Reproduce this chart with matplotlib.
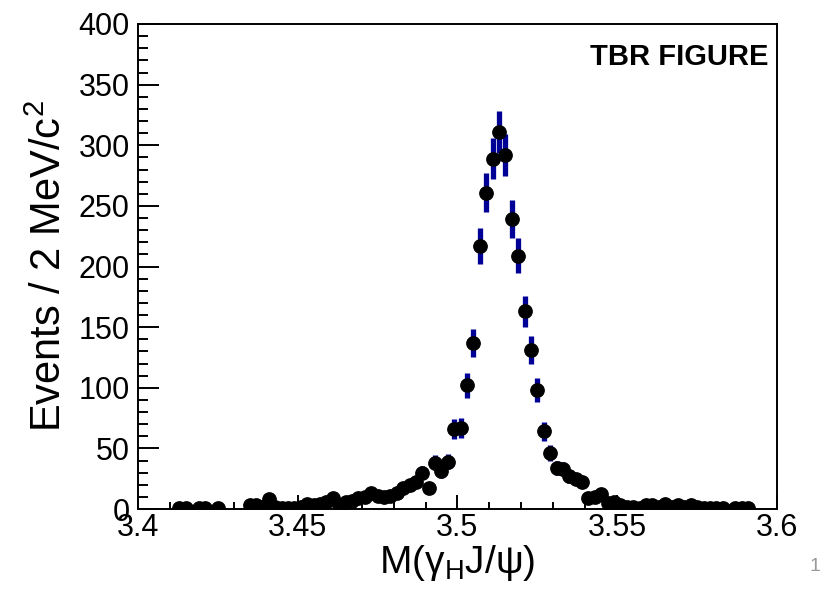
import numpy as np
import matplotlib
matplotlib.use("Agg")
import matplotlib.pyplot as plt
from matplotlib.ticker import MultipleLocator

plt.rcParams["font.family"] = ["Liberation Sans", "DejaVu Sans"]
plt.rcParams["mathtext.fontset"] = "custom"
plt.rcParams["mathtext.rm"] = "Liberation Sans"
plt.rcParams["mathtext.it"] = "Liberation Sans:italic"

# 2 MeV bins from 3.40 to 3.60 GeV, counts
bin_lo = 3.40
bin_width = 0.002
counts = [
    0, 0, 0, 0, 0, 0, 1, 1, 0, 1,
    1, 0, 1, 0, 0, 0, 0, 3, 3, 2,
    8, 2, 1, 1, 1, 2, 4, 3, 4, 6,
    9, 3, 6, 7, 9, 10, 13, 11, 10, 11,
    13, 17, 20, 22, 30, 17, 38, 31, 39, 66,
    67, 102, 137, 217, 261, 289, 311, 292, 239, 209,
    163, 131, 98, 64, 46, 34, 33, 27, 25, 22,
    9, 10, 12, 5, 6, 3, 2, 2, 1, 3,
    3, 2, 4, 2, 3, 2, 3, 2, 1, 1,
    1, 1, 0, 1, 1, 1, 0, 0, 0, 0,
]

x_ticks = [3.4, 3.45, 3.5, 3.55, 3.6]
x_tick_labels = ["3.4", "3.45", "3.5", "3.55", "3.6"]
y_ticks = [0, 50, 100, 150, 200, 250, 300, 350, 400]

n = np.array(counts, dtype=float)
centers = bin_lo + bin_width * (np.arange(len(n)) + 0.5)
keep = n > 0  # empty bins are not drawn

fig = plt.figure(figsize=(8.21, 6.06), dpi=100)
ax = fig.add_axes([0.168, 0.160, 0.7784, 0.8004])

ax.errorbar(centers[keep], n[keep], yerr=np.sqrt(n[keep]), fmt="o",
            color="black", markersize=9.6, ecolor="#000096",
            elinewidth=3.8, capsize=0)

ax.set_xlim(3.4, 3.6)
ax.set_ylim(0, 400)
ax.set_xticks(x_ticks)
ax.set_xticklabels(x_tick_labels)
ax.set_yticks(y_ticks)
ax.xaxis.set_minor_locator(MultipleLocator(0.01))
ax.yaxis.set_minor_locator(MultipleLocator(10))

ax.tick_params(axis="both", which="both", direction="in", width=1.4,
               top=False, right=False, labelsize=22, colors="black")
ax.tick_params(axis="y", which="major", length=15, pad=6)
ax.tick_params(axis="y", which="minor", length=7.5)
ax.tick_params(axis="x", which="major", length=10, pad=3)
ax.tick_params(axis="x", which="minor", length=5)
for s in ax.spines.values():
    s.set_linewidth(1.4)

ax.set_xlabel(r"M(γ$_{\mathrm{H}}$J/ψ)", fontsize=28, labelpad=0)
ax.set_ylabel(r"Events / 2 MeV/c$^{2}$", fontsize=30, labelpad=6)

ax.text(0.987, 0.96, "TBR FIGURE", transform=ax.transAxes,
        ha="right", va="top", fontsize=21, fontweight="bold")

# leftover page number peeking in at the right edge
fig.text(0.999, 0.065, "1", fontsize=14, color="#999999", ha="right", va="center")

fig.savefig("out.png", dpi=100)
